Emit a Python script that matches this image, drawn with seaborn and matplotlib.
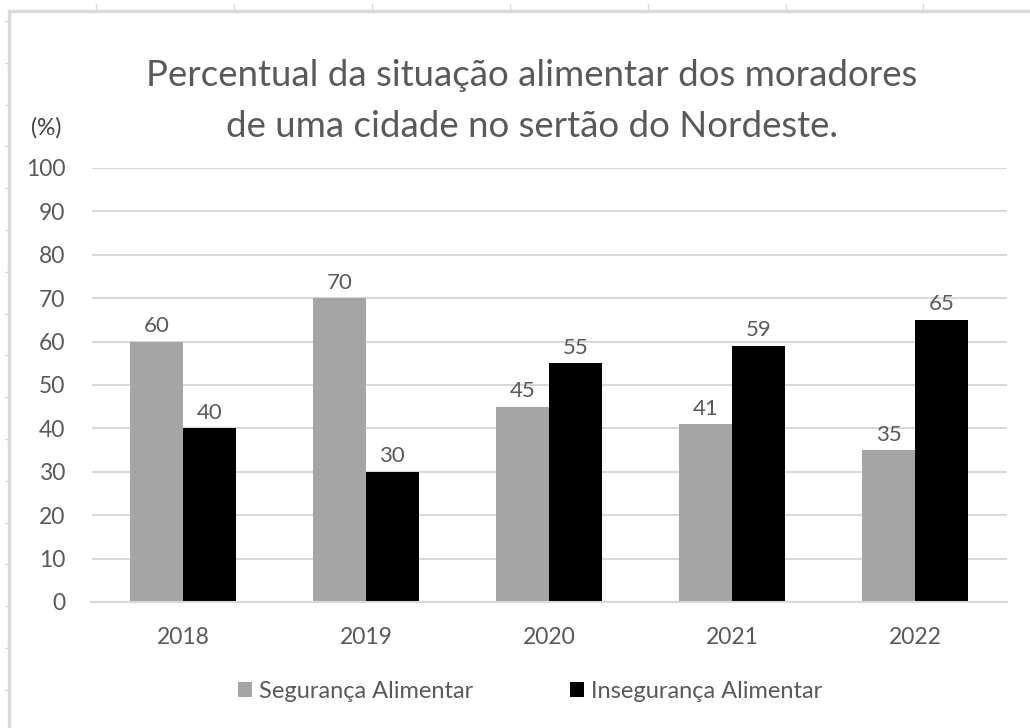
import numpy as np
import pandas as pd
import matplotlib
matplotlib.use("Agg")
import matplotlib.pyplot as plt
from matplotlib.lines import Line2D
import seaborn as sns

# data
anos = ["2018", "2019", "2020", "2021", "2022"]
seguranca = [60, 70, 45, 41, 35]
inseguranca = [40, 30, 55, 59, 65]
series = ["Segurança Alimentar", "Insegurança Alimentar"]
cores = ["#a5a5a5", "#000000"]
titulo = "Percentual da situação alimentar dos moradores\nde uma cidade no sertão do Nordeste."

df = pd.DataFrame({
    "ano": anos * 2,
    "valor": seguranca + inseguranca,
    "serie": [series[0]] * len(anos) + [series[1]] * len(anos),
})

sns.set_theme(style="white")
plt.rcParams["font.family"] = ["Lato", "DejaVu Sans"]
texto = "#595959"

W, H = 1030, 728
fig = plt.figure(figsize=(W / 100, H / 100), dpi=100)
ax = fig.add_axes([91.5 / W, 1 - 602 / H, 915 / W, 434 / H])

sns.barplot(data=df, x="ano", y="valor", hue="serie", palette=cores,
            width=0.574, gap=0, saturation=1, linewidth=0, ax=ax, legend=True)

for c in ax.containers:
    ax.bar_label(c, padding=4, fontsize=16, color=texto)

ax.set_ylim(0, 100)
ax.set_yticks(range(0, 101, 10))
ax.yaxis.grid(True, color="#d9d9d9", linewidth=1.5)
ax.set_axisbelow(True)
for s in ["top", "right", "left"]:
    ax.spines[s].set_visible(False)
ax.spines["bottom"].set_color("#d9d9d9")
ax.spines["bottom"].set_linewidth(1.5)
ax.tick_params(axis="y", length=0, pad=19, labelsize=16.5, labelcolor=texto)
ax.tick_params(axis="x", length=0, pad=18, labelsize=16.5, labelcolor=texto)
ax.set_xlabel("")
ax.set_ylabel("")

# legend at the bottom
h, l = ax.get_legend_handles_labels()
ax.get_legend().remove()
fig.legend(h, l, loc="center", bbox_to_anchor=(530 / W, 1 - 691 / H), ncol=2,
           frameon=False, fontsize=17, labelcolor=texto, handlelength=0.6,
           handleheight=0.6, handletextpad=0.3, columnspacing=4.1)

fig.text(532 / W, 1 - 101 / H, titulo, ha="center", va="center", fontsize=26.4,
         color=texto, linespacing=1.63)
fig.text(46 / W, 1 - 128 / H, "(%)", ha="center", va="center", fontsize=16.5,
         color="#404040")

# spreadsheet frame around the chart
borda = "#d9d9d9"
fig.add_artist(Line2D([9 / W, 1], [1 - 11 / H, 1 - 11 / H], color=borda, lw=2.5))
fig.add_artist(Line2D([9 / W, 9 / W], [0, 1 - 11 / H], color=borda, lw=2.5))
for x in [96, 234, 372, 510, 648, 786, 923]:
    fig.add_artist(Line2D([x / W, x / W], [1 - 4 / H, 1 - 11 / H], color=borda, lw=1))
for y in np.arange(21, H, 41.8):
    fig.add_artist(Line2D([5 / W, 9 / W], [1 - y / H, 1 - y / H], color=borda, lw=1))

fig.savefig("out.png", dpi=100, facecolor="white")
